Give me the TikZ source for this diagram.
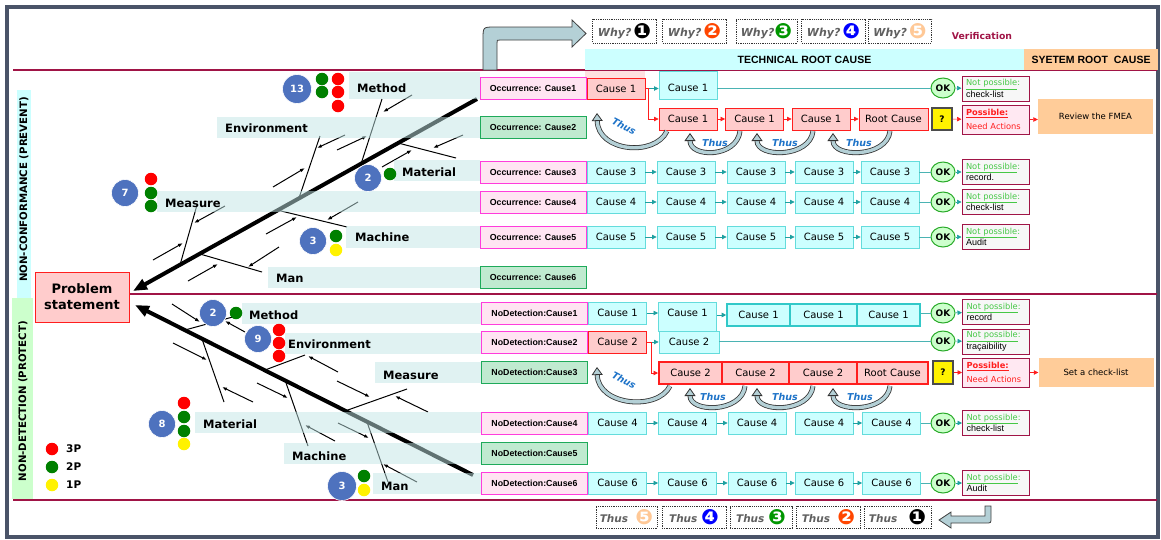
\documentclass[tikz,border=0pt]{standalone}
\usepackage{fontspec}
\setmainfont{DejaVu Sans}
\newfontfamily\arialfont{Liberation Sans}
\usetikzlibrary{arrows.meta,positioning,shapes.geometric}

\definecolor{framegray}{RGB}{74,84,104}
\definecolor{maroonline}{RGB}{160,20,70}
\definecolor{stripteal}{RGB}{193,229,229}
\definecolor{badgeblue}{RGB}{78,114,190}
\definecolor{dotgreen}{RGB}{0,128,0}
\definecolor{occpink}{RGB}{255,228,242}
\definecolor{occmagenta}{RGB}{255,60,220}
\definecolor{occgreenfill}{RGB}{192,234,208}
\definecolor{occgreenedge}{RGB}{30,170,90}
\definecolor{cyanfill}{RGB}{204,255,255}
\definecolor{cyanedge}{RGB}{100,220,220}
\definecolor{joinedge}{RGB}{50,200,200}
\definecolor{tealarrow}{RGB}{30,160,160}
\definecolor{redfill}{RGB}{255,204,204}
\definecolor{rededge}{RGB}{255,30,30}
\definecolor{okfill}{RGB}{204,255,204}
\definecolor{okedge}{RGB}{40,170,40}
\definecolor{notegray}{RGB}{247,247,247}
\definecolor{possiblepink}{RGB}{255,232,242}
\definecolor{peach}{RGB}{255,204,153}
\definecolor{arrowblue}{RGB}{180,208,214}
\definecolor{thusblue}{RGB}{30,115,200}
\definecolor{whygray}{RGB}{96,96,96}
\definecolor{notgreen}{RGB}{70,200,70}
\definecolor{numorange}{RGB}{255,70,0}
\definecolor{numpeach}{RGB}{255,200,150}
\definecolor{numgreen}{RGB}{0,150,0}
\definecolor{protectgreen}{RGB}{204,255,204}

\newcommand{\sz}[1]{\fontsize{#1}{#1}\selectfont}
\newcommand{\numdot}[2]{\raisebox{-2pt}{\fontsize{21}{21}\selectfont\textcolor{#1}{#2}}}

\tikzset{
  labelstrip/.style={fill=stripteal, fill opacity=0.5},
  bonetext/.style={anchor=west, inner sep=0pt, font=\bfseries\sz{11.5}},
  bone/.style={line width=1pt},
  feed/.style={line width=1pt, -{Latex[length=5pt,width=3.6pt]}},
  spine/.style={line width=4pt, -{Triangle[length=14pt,width=11pt]}},
  badge/.style={circle, fill=badgeblue, draw=white, line width=0.6pt, minimum size=27pt, inner sep=0pt, text=white, font=\bfseries\sz{10}},
  pdot/.style={circle, fill=#1, minimum size=12.5pt, inner sep=0pt},
  occbox/.style={draw=occmagenta, fill=occpink, line width=0.9pt, minimum width=106pt, minimum height=22pt, inner sep=0pt, font=\arialfont\bfseries\sz{8.8}},
  occgreen/.style={occbox, draw=occgreenedge, fill=occgreenfill},
  cyancause/.style={draw=cyanedge, fill=cyanfill, line width=0.9pt, minimum width=58pt, minimum height=22pt, inner sep=0pt, font=\sz{10}},
  redcause/.style={cyancause, draw=rededge, fill=redfill},
  joincyan/.style={cyancause, draw=joinedge, line width=1.6pt},
  joinred/.style={cyancause, draw=rededge, fill=redfill, line width=2pt},
  tealarr/.style={draw=tealarrow, line width=0.7pt, -{Triangle[length=4.5pt,width=4.5pt]}},
  tealline/.style={draw=tealarrow!80, line width=0.8pt},
  redarr/.style={draw=rededge, line width=0.7pt, -{Triangle[length=4.5pt,width=4.5pt]}},
  okmark/.style={ellipse, draw=okedge, fill=okfill, line width=1pt, minimum width=24pt, minimum height=20pt, inner sep=0pt, font=\bfseries\sz{9}},
  notebox/.style={draw=maroonline, fill=notegray, line width=1pt, minimum width=67pt, minimum height=25pt, inner xsep=4pt, inner ysep=0pt, text width=59pt, align=left, font=\fontsize{8.3}{11.5}\selectfont},
  possiblebox/.style={notebox, fill=possiblepink, minimum height=29pt, text=rededge, font=\fontsize{8.3}{14}\selectfont},
  peachbox/.style={fill=peach, minimum width=115pt, minimum height=35pt, inner sep=0pt, font=\sz{8.5}},
  qbox/.style={draw=black!70, fill=yellow, line width=1.4pt, minimum width=20pt, minimum height=22pt, inner sep=0pt, font=\bfseries\sz{9}},
  whybox/.style={draw=black!80, dash pattern=on 1.2pt off 1pt, line width=0.7pt, minimum width=64pt, minimum height=24pt, inner sep=0pt, text=whygray, font=\bfseries\itshape\sz{11}},
  thusbox/.style={whybox, minimum height=22pt, font=\bfseries\itshape\sz{10.5}},
  thusarrow/.style={draw=black!80, line width=0.8pt, double=arrowblue, double distance=3.4pt, -{Triangle[length=8pt,width=11pt,fill=arrowblue,line width=0.8pt]}},
  thuslabel/.style={inner sep=0pt, text=thusblue, font=\bfseries\itshape\sz{9.5}},
  sidelabel/.style={rotate=90, inner sep=0pt, font=\bfseries\sz{10.2}}
}

\begin{document}
\begin{tikzpicture}[x=1pt,y=-1pt]
  \useasboundingbox (0,0) rectangle (1161,539);
  % frame and separating lines
  \draw[framegray, line width=4pt] (7,7) rectangle (1158,537);
  \fill[redfill, fill opacity=0.6] (585,63) rectangle (645,78);
  \draw[maroonline, line width=1.5pt] (13,70) -- (1157,70);
  \draw[maroonline, line width=1.5pt] (130,294) -- (1157,294);
  \draw[maroonline, line width=1.5pt] (13,500) -- (1157,500);

  % side labels
  \fill[cyanfill] (17,90) rectangle (31,300);
  \node[sidelabel] (prevent) at (24,189.5) {NON-CONFORMANCE (PREVENT)};
  \fill[protectgreen] (12,298) rectangle (33,499);
  \node[sidelabel] (protect) at (23,401) {NON-DETECTION (PROTECT)};
  \node[draw=rededge, fill=redfill, line width=1pt, minimum width=94pt, minimum height=50pt, inner sep=0pt, align=center, font=\bfseries\fontsize{13}{16}\selectfont] (problem) at (82,297) {Problem\\statement};

  % header
  \filldraw[fill=arrowblue, draw=black!75, line width=0.8pt] (483,70) -- (483,39) .. controls (483,27) .. (495,27) -- (572,27) -- (572,20) -- (586,33.5) -- (572,47) -- (572,40) -- (500,40) .. controls (497,40) .. (497,43) -- (497,70) -- cycle;
  \node[whybox] (why1) at (624.5,31) {Why?\,\numdot{black}{❶}};
  \node[whybox] (why2) at (694.5,31) {Why?\,\numdot{numorange}{❷}};
  \node[whybox, minimum width=61pt] (why3) at (766.5,31) {Why?\numdot{numgreen}{❸}};
  \node[whybox] (why4) at (833.5,31) {Why?\,\numdot{blue}{❹}};
  \node[whybox, minimum width=63pt] (why5) at (900,31) {Why?\,\numdot{numpeach}{❺}};
  \node[text=maroonline, font=\bfseries\sz{9.3}] (verif) at (982,36) {Verification};
  \node[fill=cyanfill, minimum width=439pt, minimum height=21pt, inner sep=0pt, font=\arialfont\bfseries\sz{10.5}] (tech) at (804.5,59.5) {TECHNICAL ROOT CAUSE};
  \node[fill=peach, minimum width=134pt, minimum height=21pt, inner sep=0pt, font=\arialfont\bfseries\sz{10.5}] (sys) at (1091,59.5) {SYETEM ROOT\ \ CAUSE};

  % fishbone: prevent
  \draw[spine] (477,99) -- (133,291);
  \draw[bone] (382,99) -- (361,164);
  \draw[bone] (320,136) -- (299,198);
  \draw[bone] (398,143) -- (456,158);
  \draw[bone] (197,205) -- (180,265);
  \draw[bone] (277,210) -- (347,227);
  \draw[bone] (200,254) -- (262,272);
  \draw[feed] (412,95) -- (383,112);
  \draw[feed] (337,150) -- (367,136);
  \draw[feed] (345,135) -- (317,148);
  \draw[feed] (273,187) -- (305,168);
  \draw[feed] (463,135) -- (433,148);
  \draw[feed] (382,167) -- (412,150);
  \draw[feed] (225,206) -- (194,223);
  \draw[feed] (153,260) -- (183,243);
  \draw[feed] (358,202) -- (327,220);
  \draw[feed] (266,234) -- (297,217);
  \draw[feed] (279,247) -- (248,267);
  \draw[feed] (188,281) -- (218,264);

  % fishbone: protect
  \draw[spine] (473,475) -- (135,305);
  \draw[bone] (185,330) -- (240,315);
  \draw[bone] (265,370) -- (305,355);
  \draw[bone] (202,339) -- (224,402);
  \draw[bone] (285,380) -- (308,446);
  \draw[bone] (345,411) -- (407,389);
  \draw[bone] (367,422) -- (388,482);
  \draw[feed] (172,304) -- (200,322);
  \draw[feed] (245,332) -- (225,321);
  \draw[feed] (338,372) -- (308,356);
  \draw[feed] (173,343) -- (207,360);
  \draw[feed] (253,402) -- (222,387);
  \draw[feed] (257,383) -- (288,398);
  \draw[feed] (335,441) -- (305,425);
  \draw[feed] (337,381) -- (370,397);
  \draw[feed] (428,412) -- (395,396);
  \draw[feed] (338,423) -- (369,438);
  \draw[feed] (417,482) -- (383,464);

  % label strips
  \fill[labelstrip] (349,72) rectangle (480,99);
  \fill[labelstrip] (217,117) rectangle (480,138);
  \fill[labelstrip] (394,160) rectangle (480,181);
  \fill[labelstrip] (157,191) rectangle (480,212);
  \fill[labelstrip] (346,226) rectangle (480,248);
  \fill[labelstrip] (268,267) rectangle (480,288);
  \fill[labelstrip] (242,303) rectangle (482,324);
  \fill[labelstrip] (285,333) rectangle (482,354);
  \fill[labelstrip] (375,362) rectangle (482,383);
  \fill[labelstrip] (195,412) rectangle (482,433);
  \fill[labelstrip] (284,443) rectangle (482,464);
  \fill[labelstrip] (373,473) rectangle (482,494);

  \node[bonetext] (tmethod) at (357,88) {Method};
  \node[bonetext] (tenv) at (225,128) {Environment};
  \node[bonetext] (tmaterial) at (402,172) {Material};
  \node[bonetext] (tmeasure) at (165,203) {Measure};
  \node[bonetext] (tmachine) at (355,237) {Machine};
  \node[bonetext] (tman) at (276,278) {Man};
  \node[bonetext] (bmethod) at (249,315) {Method};
  \node[bonetext] (benv) at (288,344) {Environment};
  \node[bonetext] (bmeasure) at (383,375) {Measure};
  \node[bonetext] (bmaterial) at (203,424) {Material};
  \node[bonetext] (bmachine) at (292,456) {Machine};
  \node[bonetext] (bman) at (381,486) {Man};

  % scores
  \node[badge, minimum size=29pt] (n13) at (297,89) {13};
  \node[pdot=dotgreen] at (322,79) {};
  \node[pdot=red] at (338,79) {};
  \node[pdot=dotgreen] at (322,92) {};
  \node[pdot=red] at (338,92) {};
  \node[pdot=red] at (338,106) {};
  \node[badge] (n7) at (125,193) {7};
  \node[pdot=red] at (151,179) {};
  \node[pdot=dotgreen] at (151,193) {};
  \node[pdot=dotgreen] at (151,206) {};
  \node[badge] (nt2) at (368,178) {2};
  \node[pdot=dotgreen] at (390,174) {};
  \node[badge] (nt3) at (313,241) {3};
  \node[pdot=dotgreen] at (336,236) {};
  \node[pdot=yellow] at (336,250) {};
  \node[badge] (nb2) at (213,313) {2};
  \node[pdot=dotgreen] at (236,313) {};
  \node[badge] (nb9) at (258,339) {9};
  \node[pdot=red] at (279,330) {};
  \node[pdot=red] at (279,343) {};
  \node[pdot=red] at (279,356) {};
  \node[badge] (nb8) at (162,424) {8};
  \node[pdot=red] at (184,403) {};
  \node[pdot=dotgreen] at (184,417) {};
  \node[pdot=dotgreen] at (184,431) {};
  \node[pdot=yellow] at (184,444) {};
  \node[badge, minimum size=29pt] (nb3) at (342,486) {3};
  \node[pdot=dotgreen] at (364,476) {};
  \node[pdot=yellow] at (364,490) {};

  % legend
  \node[pdot=red] (l3) at (52,449) {};
  \node[pdot=dotgreen] (l2) at (52,467) {};
  \node[pdot=yellow] (l1) at (52,485) {};
  \node[bonetext, font=\bfseries\sz{10.5}] at (66,449) {3P};
  \node[bonetext, font=\bfseries\sz{10.5}] at (66,467) {2P};
  \node[bonetext, font=\bfseries\sz{10.5}] at (66,485) {1P};

  % occurrence causes
  \node[occbox] (occ1) at (533,88) {Occurrence: Cause1};
  \node[occgreen] (occ2) at (533,127.5) {Occurrence: Cause2};
  \node[occbox] (occ3) at (533,172) {Occurrence: Cause3};
  \node[occbox] (occ4) at (533,202) {Occurrence: Cause4};
  \node[occbox] (occ5) at (533,237.5) {Occurrence: Cause5};
  \node[occgreen] (occ6) at (533,277) {Occurrence: Cause6};

  % row 1 and 2 (prevent)
  \node[redcause, minimum height=21pt] (t1a) at (616,88.5) {Cause 1};
  \node[cyancause, minimum height=28pt, text height=12.4pt] (t1b) at (688,85.5) {Cause 1};
  \draw[tealarr] (t1a.east) -- (t1a.east -| t1b.west);
  \node[okmark] (ok1) at (943,88) {OK};
  \draw[tealline] (t1b.east |- ok1) -- (ok1);
  \node[notebox] (note1) at (995.5,88.5) {{\color{notgreen}\underline{Not possible}:}\\{\arialfont\sz{9}check-list}};
  \draw[tealarr] (ok1) -- (note1);
  \node[redcause] (t2a) at (688,119) {Cause 1};
  \node[redcause] (t2b) at (754.5,119) {Cause 1};
  \node[redcause] (t2c) at (821,119) {Cause 1};
  \node[redcause, minimum width=69pt] (t2d) at (893.5,119) {Root Cause};
  \node[qbox] (q1) at (942,119) {?};
  \node[possiblebox] (poss1) at (995.5,119.5) {\textbf{\underline{Possible:}}\\Need Actions};
  \node[peachbox] (fmea) at (1095.5,116.5) {Review the FMEA};
  \draw[redarr] (t1a.east) -- ++(3,0) |- (t2a.west);
  \draw[redarr] (t2a) -- (t2b);
  \draw[redarr] (t2b) -- (t2c);
  \draw[redarr] (t2c) -- (t2d);
  \draw[redarr] (q1) -- (poss1);
  \draw[redarr] (poss1.east) -- (poss1.east -| fmea.west);
  \draw[thusarrow] (667,131) .. controls (655,157) and (598,152) .. (597,113);
  \node[thuslabel, rotate=-28] at (624,126) {Thus};
  \foreach \s/\e/\m in {740/690/715, 813/757/785, 890/833/859} {
    \draw[thusarrow] (\s,131) .. controls ({\s-3},158) and (\e,158) .. (\e,133);
    \node[thuslabel] at (\m,143) {Thus};
  }

  % rows 3 to 5 (prevent)
  \foreach \r/\y/\v in {3/172/record., 4/202/check-list, 5/237/Audit} {
    \foreach \i/\x in {1/616,2/686,3/756,4/824,5/890}
      \node[cyancause] (c\r-\i) at (\x,\y) {Cause \r};
    \foreach \i/\j in {1/2,2/3,3/4,4/5}
      \draw[tealarr] (c\r-\i) -- (c\r-\j);
    \node[okmark] (ok\r) at (943,\y) {OK};
    \node[notebox] (note\r) at (995.5,\y) {{\color{notgreen}\underline{Not possible}:}\\{\arialfont\sz{9}\v}};
    \draw[tealline] (c\r-5) -- (ok\r);
    \draw[tealarr] (ok\r) -- (note\r);
  }

  % no detection causes
  \node[occbox] (nd1) at (534.5,313) {NoDetection:Cause1};
  \node[occbox] (nd2) at (534.5,342) {NoDetection:Cause2};
  \node[occgreen] (nd3) at (534.5,372) {NoDetection:Cause3};
  \node[occbox] (nd4) at (534.5,423) {NoDetection:Cause4};
  \node[occgreen] (nd5) at (534.5,453) {NoDetection:Cause5};
  \node[occbox] (nd6) at (534.5,483) {NoDetection:Cause6};

  % rows 1 to 3 (protect)
  \node[cyancause] (b1a) at (617.5,313) {Cause 1};
  \node[cyancause, minimum height=29pt, text depth=7pt] (b1b) at (687.5,316.5) {Cause 1};
  \node[cyancause, minimum width=60pt] (b2b) at (689,342) {Cause 2};
  \node[joincyan, minimum width=63pt] (b1c) at (758.5,315) {Cause 1};
  \node[joincyan, minimum width=67pt] (b1d) at (823.5,315) {Cause 1};
  \node[joincyan, minimum width=63pt] (b1e) at (888.5,315) {Cause 1};
  \draw[tealarr] (b1a.east) -- (b1a.east -| b1b.west);
  \draw[tealarr] (b1b.east |- b1c) -- (b1c);
  \node[okmark] (bok1) at (943,313) {OK};
  \draw[tealline] (b1e.east |- bok1) -- (bok1);
  \node[notebox] (bnote1) at (996,312) {{\color{notgreen}\underline{Not possible}:}\\{\arialfont\sz{9}record}};
  \draw[tealarr] (bok1) -- (bnote1);
  \node[redcause] (b2a) at (617.5,342) {Cause 2};
  \draw[tealarr] (b2a) -- (b2b);
  \node[okmark] (bok2) at (943,341) {OK};
  \draw[tealline] (b2b.east |- bok2) -- (bok2);
  \node[notebox] (bnote2) at (996,341.5) {{\color{notgreen}\underline{Not possible}:}\\{\arialfont\sz{9}traçaibility}};
  \draw[tealarr] (bok2) -- (bnote2);
  \node[joinred, minimum width=63pt] (b3a) at (690.5,373) {Cause 2};
  \node[joinred, minimum width=67pt] (b3b) at (755.5,373) {Cause 2};
  \node[joinred, minimum width=68pt] (b3c) at (823,373) {Cause 2};
  \node[joinred, minimum width=71pt] (b3d) at (892.5,373) {Root Cause};
  \node[qbox, minimum height=23pt] (q2) at (943,372.5) {?};
  \node[possiblebox] (poss2) at (996,372.5) {\textbf{\underline{Possible:}}\\Need Actions};
  \node[peachbox, minimum height=29pt] (chk) at (1096,372.5) {Set a check-list};
  \draw[redarr] (b2a.east) -- ++(4,0) |- (b3a.west);
  \draw[redarr] (q2) -- (poss2);
  \draw[redarr] (poss2) -- (chk);
  \draw[thusarrow] (670,386) .. controls (658,411) and (598,406) .. (597,367);
  \node[thuslabel, rotate=-28] at (624,380) {Thus};
  \foreach \s/\e/\m in {745/690/713, 813/757/785, 890/833/860} {
    \draw[thusarrow] (\s,386) .. controls ({\s-3},413) and (\e,413) .. (\e,388);
    \node[thuslabel] at (\m,397) {Thus};
  }

  % rows 4 and 6 (protect)
  \foreach \r/\y/\v in {4/423/check-list, 6/483/Audit} {
    \foreach \i/\x in {1/617.5,2/687.5,3/757,4/824,5/891.5}
      \node[cyancause] (d\r-\i) at (\x,\y) {Cause \r};
    \node[okmark] (dok\r) at (943,\y) {OK};
    \node[notebox] (dnote\r) at (996,\y) {{\color{notgreen}\underline{Not possible}:}\\{\arialfont\sz{9}\v}};
    \draw[tealline] (d\r-5) -- (dok\r);
    \draw[tealarr] (dok\r) -- (dnote\r);
  }
  \foreach \i/\j in {1/2,2/3,4/5}
    \draw[tealarr] (d4-\i) -- (d4-\j);
  \foreach \i/\j in {1/2,2/3,3/4,4/5}
    \draw[tealarr] (d6-\i) -- (d6-\j);

  % footer
  \node[thusbox, minimum width=61pt] (thus5) at (626.5,517) {Thus\ \ \numdot{numpeach}{❺}};
  \node[thusbox] (thus4) at (694,517) {Thus\ \numdot{blue}{❹}};
  \node[thusbox, minimum width=62pt] (thus3) at (761,517) {Thus\ \numdot{numgreen}{❸}};
  \node[thusbox] (thus2) at (828.5,517) {Thus\ \ \numdot{numorange}{❷}};
  \node[thusbox, minimum width=67pt] (thus1) at (897.5,517) {Thus\ \ \ \numdot{black}{❶}};
  \filldraw[fill=arrowblue, draw=black!75, line width=0.8pt] (985,506) -- (985,516) -- (951,516) -- (951,512) -- (939,520) -- (951,528) -- (951,523) -- (986,523) .. controls (991,523) .. (991,518) -- (991,506) -- cycle;
\end{tikzpicture}
\end{document}
